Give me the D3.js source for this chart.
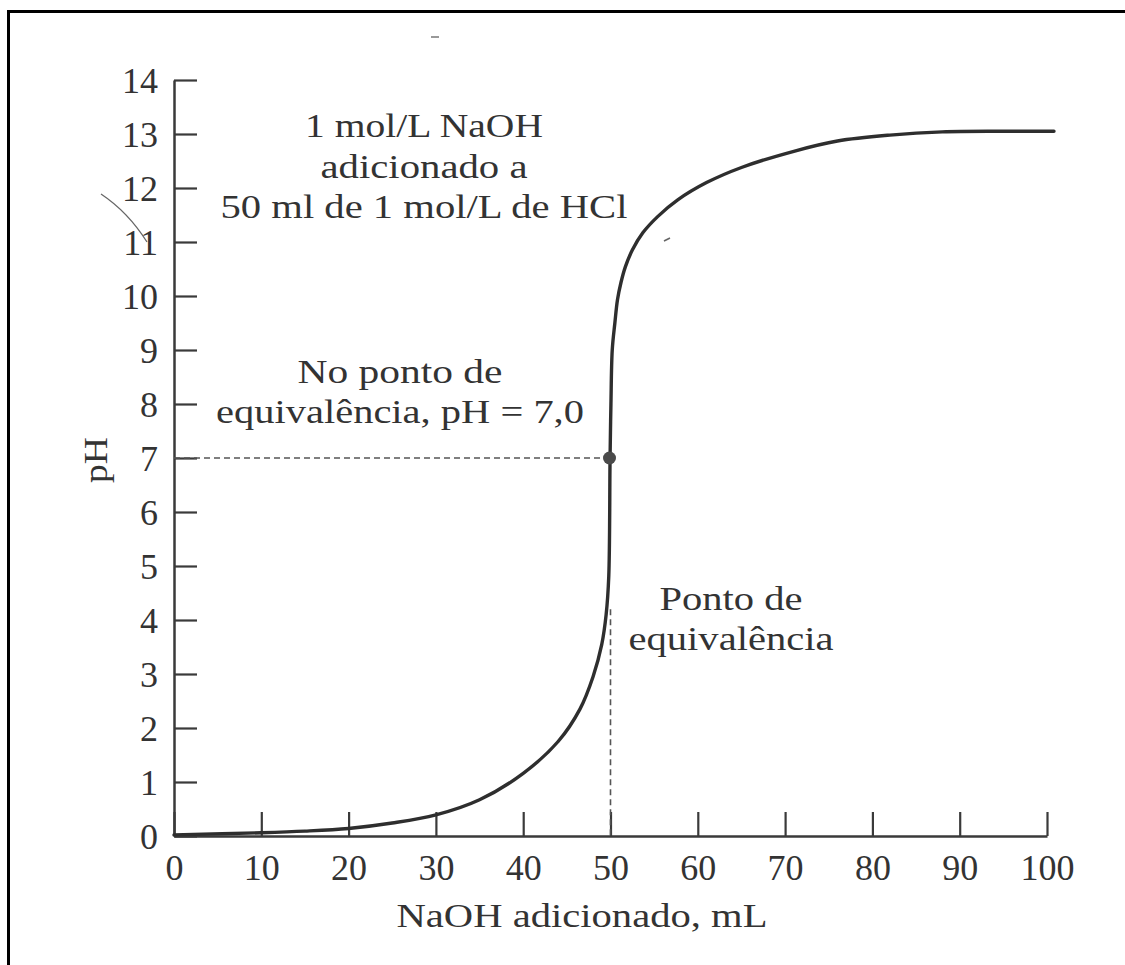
<!DOCTYPE html>
<html>
<head>
<meta charset="utf-8">
<script src="https://cdn.jsdelivr.net/npm/d3@7"></script>
<style>
  html, body { margin: 0; padding: 0; background: #fff; }
  svg { display: block; }
  text { font-family: "Liberation Serif", "Times New Roman", serif; fill: #333; }
</style>
</head>
<body>
<svg id="chart" width="1125" height="965"></svg>
<script>
// ---- data ----
const volumeML = [0, 10, 15, 20, 25, 30, 35, 40, 44, 46.5, 48, 49, 49.5, 49.8, 49.95, 50.05, 50.2, 50.5, 50.8, 51.2, 51.7, 52.5, 53.7, 55.4, 57.7, 61, 65, 71, 76, 82, 88, 95, 100.8];
const pHValues = [0.02, 0.06, 0.09, 0.14, 0.24, 0.39, 0.67, 1.16, 1.75, 2.35, 2.95, 3.55, 4.1, 4.8, 7.0, 8.0, 9.0, 9.5, 9.93, 10.25, 10.54, 10.85, 11.17, 11.47, 11.78, 12.1, 12.38, 12.68, 12.87, 12.98, 13.04, 13.05, 13.05];
const xTicks = [0, 10, 20, 30, 40, 50, 60, 70, 80, 90, 100];
const yTicks = [0, 1, 2, 3, 4, 5, 6, 7, 8, 9, 10, 11, 12, 13, 14];
const equivalence = [50, 7.0];        // [mL, pH]
const equivDashTopPH = [4.2];
const topNote = ["1 mol/L NaOH", "adicionado a", "50 ml de 1 mol/L de HCl"];
const midNote = ["No ponto de", "equivalência, pH = 7,0"];
const equivNote = ["Ponto de", "equivalência"];
const xTitle = ["NaOH adicionado, mL"];
const yTitle = ["pH"];

// ---- layout ----
const svg = d3.select("#chart");
const x = d3.scaleLinear().domain([0, 100]).range([174, 1047]);
const y = d3.scaleLinear().domain([0, 14]).range([836, 80]);
const ink = "#3a3a3a";
const serif = "Liberation Serif";

// frame (scan border)
svg.append("line").attr("x1", 7).attr("x2", 1125).attr("y1", 11.5).attr("y2", 11.5)
  .attr("stroke", "#000").attr("stroke-width", 3);
svg.append("line").attr("x1", 8.5).attr("x2", 8.5).attr("y1", 10).attr("y2", 965)
  .attr("stroke", "#000").attr("stroke-width", 3);

// axes
const yAxis = d3.axisLeft(y).tickValues(yTicks).tickSizeInner(-23).tickSizeOuter(0).tickPadding(16);
const gy = svg.append("g").attr("transform", `translate(${x(0)},0)`).call(yAxis);
const xAxis = d3.axisBottom(x).tickValues(xTicks).tickSizeInner(-24).tickSizeOuter(0).tickPadding(18);
const gx = svg.append("g").attr("transform", `translate(0,${y(0)})`).call(xAxis);
[gx, gy].forEach(g => {
  g.attr("font-family", serif);
  g.select(".domain").attr("stroke", ink).attr("stroke-width", 2.5);
  g.selectAll(".tick line").attr("stroke", ink).attr("stroke-width", 2.2);
  g.selectAll(".tick text").attr("font-family", serif).attr("font-size", 36).attr("fill", "#333");
});
gy.selectAll(".tick text").attr("dy", "0.34em");

// dashed guide lines
svg.append("line")
  .attr("x1", x(0)).attr("x2", x(equivalence[0]))
  .attr("y1", y(equivalence[1])).attr("y2", y(equivalence[1]))
  .attr("stroke", "#555").attr("stroke-width", 1.6).attr("stroke-dasharray", "6,4");
svg.append("line")
  .attr("x1", x(equivalence[0])).attr("x2", x(equivalence[0]))
  .attr("y1", y(equivDashTopPH[0])).attr("y2", y(0))
  .attr("stroke", "#555").attr("stroke-width", 1.6).attr("stroke-dasharray", "6,4");

// titration curve
const pts = volumeML.map((v, i) => [v, pHValues[i]]);
const line = d3.line().x(d => x(d[0])).y(d => y(d[1])).curve(d3.curveCatmullRom.alpha(0.5));
svg.append("path").datum(pts).attr("d", line)
  .attr("fill", "none").attr("stroke", "#2e2e2e").attr("stroke-width", 3.4)
  .attr("stroke-linecap", "round").attr("stroke-linejoin", "round");

// equivalence point
svg.append("circle").attr("cx", x(equivalence[0]) - 1).attr("cy", y(equivalence[1]))
  .attr("r", 6.5).attr("fill", "#4a4a4a");

// annotations
function block(lines, cx, baseline0, step, widths, size) {
  lines.forEach((t, i) => {
    svg.append("text").attr("x", cx).attr("y", baseline0 + i * step)
      .attr("text-anchor", "middle").attr("font-size", size).attr("font-family", serif)
      .attr("textLength", widths[i]).attr("lengthAdjust", "spacingAndGlyphs")
      .text(t);
  });
}
block(topNote, 424, 137, 40.5, [238, 207, 407], 34);
block(midNote, 400, 383, 39.5, [205, 368], 34);
block(equivNote, 731, 610, 40, [143, 205], 34);
block(xTitle, 582, 927, 0, [371], 34);

svg.append("text")
  .attr("transform", `translate(107,460) rotate(-90)`)
  .attr("text-anchor", "middle").attr("font-size", 34).attr("font-family", serif)
  .attr("textLength", 46).attr("lengthAdjust", "spacingAndGlyphs")
  .text(yTitle[0]);

// small scan marks
svg.append("path").attr("d", "M101,194 Q128,212 147,242").attr("fill", "none")
  .attr("stroke", "#666").attr("stroke-width", 1.3);
svg.append("line").attr("x1", 431).attr("x2", 439).attr("y1", 37).attr("y2", 37)
  .attr("stroke", "#777").attr("stroke-width", 1.5);
svg.append("line").attr("x1", 664).attr("x2", 670).attr("y1", 241).attr("y2", 238)
  .attr("stroke", "#666").attr("stroke-width", 1.6);
</script>
</body>
</html>
